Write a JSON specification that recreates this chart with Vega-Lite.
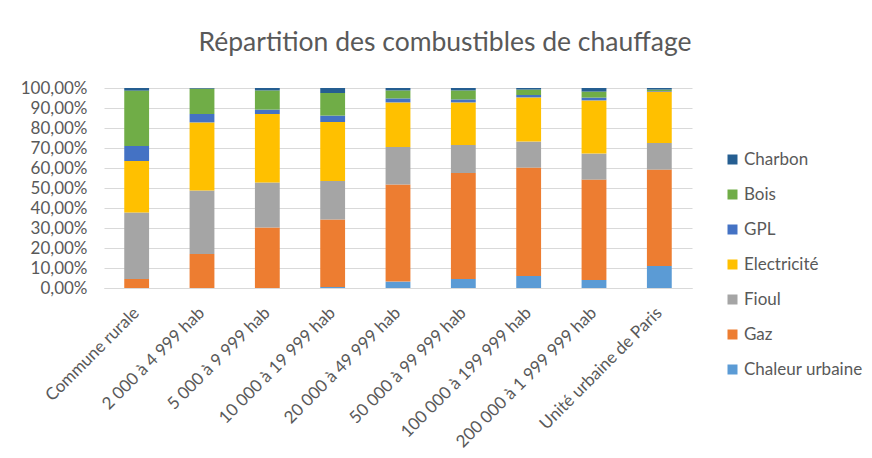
{
  "$schema": "https://vega.github.io/schema/vega-lite/v6.json",
  "autosize": {"type": "none"},
  "padding": {"left": 104, "top": 88, "right": 180, "bottom": 170},
  "width": 588,
  "height": 200,
  "background": "white",
  "title": {
    "text": "Répartition des combustibles de chauffage",
    "anchor": "middle",
    "dx": 47,
    "offset": 23,
    "font": "Lato",
    "fontSize": 26.5,
    "fontWeight": "normal",
    "color": "#595959"
  },
  "config": {
    "view": {"stroke": null},
    "font": "Lato"
  },
  "datasets": {
    "combustibles": [
      {"combustible": "Chaleur urbaine", "rang": 1},
      {"combustible": "Gaz", "rang": 2},
      {"combustible": "Fioul", "rang": 3},
      {"combustible": "Electricité", "rang": 4},
      {"combustible": "GPL", "rang": 5},
      {"combustible": "Bois", "rang": 6},
      {"combustible": "Charbon", "rang": 7}
    ]
  },
  "data": {
    "values": [
      {"groupe": "Commune rurale", "combustible": "Chaleur urbaine", "part": 0.0},
      {"groupe": "Commune rurale", "combustible": "Gaz", "part": 4.5},
      {"groupe": "Commune rurale", "combustible": "Fioul", "part": 33.2},
      {"groupe": "Commune rurale", "combustible": "Electricité", "part": 25.8},
      {"groupe": "Commune rurale", "combustible": "GPL", "part": 7.5},
      {"groupe": "Commune rurale", "combustible": "Bois", "part": 27.7},
      {"groupe": "Commune rurale", "combustible": "Charbon", "part": 1.3},

      {"groupe": "2 000 à 4 999 hab", "combustible": "Chaleur urbaine", "part": 0.0},
      {"groupe": "2 000 à 4 999 hab", "combustible": "Gaz", "part": 17.0},
      {"groupe": "2 000 à 4 999 hab", "combustible": "Fioul", "part": 31.7},
      {"groupe": "2 000 à 4 999 hab", "combustible": "Electricité", "part": 34.1},
      {"groupe": "2 000 à 4 999 hab", "combustible": "GPL", "part": 4.2},
      {"groupe": "2 000 à 4 999 hab", "combustible": "Bois", "part": 12.7},
      {"groupe": "2 000 à 4 999 hab", "combustible": "Charbon", "part": 0.3},

      {"groupe": "5 000 à 9 999 hab", "combustible": "Chaleur urbaine", "part": 0.0},
      {"groupe": "5 000 à 9 999 hab", "combustible": "Gaz", "part": 30.3},
      {"groupe": "5 000 à 9 999 hab", "combustible": "Fioul", "part": 22.4},
      {"groupe": "5 000 à 9 999 hab", "combustible": "Electricité", "part": 34.3},
      {"groupe": "5 000 à 9 999 hab", "combustible": "GPL", "part": 2.2},
      {"groupe": "5 000 à 9 999 hab", "combustible": "Bois", "part": 9.6},
      {"groupe": "5 000 à 9 999 hab", "combustible": "Charbon", "part": 1.2},

      {"groupe": "10 000 à 19 999 hab", "combustible": "Chaleur urbaine", "part": 0.5},
      {"groupe": "10 000 à 19 999 hab", "combustible": "Gaz", "part": 33.8},
      {"groupe": "10 000 à 19 999 hab", "combustible": "Fioul", "part": 19.2},
      {"groupe": "10 000 à 19 999 hab", "combustible": "Electricité", "part": 29.5},
      {"groupe": "10 000 à 19 999 hab", "combustible": "GPL", "part": 3.2},
      {"groupe": "10 000 à 19 999 hab", "combustible": "Bois", "part": 11.3},
      {"groupe": "10 000 à 19 999 hab", "combustible": "Charbon", "part": 2.5},

      {"groupe": "20 000 à 49 999 hab", "combustible": "Chaleur urbaine", "part": 3.2},
      {"groupe": "20 000 à 49 999 hab", "combustible": "Gaz", "part": 48.5},
      {"groupe": "20 000 à 49 999 hab", "combustible": "Fioul", "part": 18.8},
      {"groupe": "20 000 à 49 999 hab", "combustible": "Electricité", "part": 22.3},
      {"groupe": "20 000 à 49 999 hab", "combustible": "GPL", "part": 2.0},
      {"groupe": "20 000 à 49 999 hab", "combustible": "Bois", "part": 4.0},
      {"groupe": "20 000 à 49 999 hab", "combustible": "Charbon", "part": 1.2},

      {"groupe": "50 000 à 99 999 hab", "combustible": "Chaleur urbaine", "part": 4.5},
      {"groupe": "50 000 à 99 999 hab", "combustible": "Gaz", "part": 53.0},
      {"groupe": "50 000 à 99 999 hab", "combustible": "Fioul", "part": 14.0},
      {"groupe": "50 000 à 99 999 hab", "combustible": "Electricité", "part": 21.3},
      {"groupe": "50 000 à 99 999 hab", "combustible": "GPL", "part": 1.5},
      {"groupe": "50 000 à 99 999 hab", "combustible": "Bois", "part": 4.5},
      {"groupe": "50 000 à 99 999 hab", "combustible": "Charbon", "part": 1.2},

      {"groupe": "100 000 à 199 999 hab", "combustible": "Chaleur urbaine", "part": 6.0},
      {"groupe": "100 000 à 199 999 hab", "combustible": "Gaz", "part": 54.2},
      {"groupe": "100 000 à 199 999 hab", "combustible": "Fioul", "part": 13.0},
      {"groupe": "100 000 à 199 999 hab", "combustible": "Electricité", "part": 22.1},
      {"groupe": "100 000 à 199 999 hab", "combustible": "GPL", "part": 1.2},
      {"groupe": "100 000 à 199 999 hab", "combustible": "Bois", "part": 2.7},
      {"groupe": "100 000 à 199 999 hab", "combustible": "Charbon", "part": 0.8},

      {"groupe": "200 000 à 1 999 999 hab", "combustible": "Chaleur urbaine", "part": 4.0},
      {"groupe": "200 000 à 1 999 999 hab", "combustible": "Gaz", "part": 50.2},
      {"groupe": "200 000 à 1 999 999 hab", "combustible": "Fioul", "part": 13.0},
      {"groupe": "200 000 à 1 999 999 hab", "combustible": "Electricité", "part": 26.6},
      {"groupe": "200 000 à 1 999 999 hab", "combustible": "GPL", "part": 1.4},
      {"groupe": "200 000 à 1 999 999 hab", "combustible": "Bois", "part": 3.0},
      {"groupe": "200 000 à 1 999 999 hab", "combustible": "Charbon", "part": 1.8},

      {"groupe": "Unité urbaine de Paris", "combustible": "Chaleur urbaine", "part": 11.0},
      {"groupe": "Unité urbaine de Paris", "combustible": "Gaz", "part": 48.2},
      {"groupe": "Unité urbaine de Paris", "combustible": "Fioul", "part": 13.3},
      {"groupe": "Unité urbaine de Paris", "combustible": "Electricité", "part": 25.7},
      {"groupe": "Unité urbaine de Paris", "combustible": "GPL", "part": 0.3},
      {"groupe": "Unité urbaine de Paris", "combustible": "Bois", "part": 0.7},
      {"groupe": "Unité urbaine de Paris", "combustible": "Charbon", "part": 0.8}
    ]
  },
  "transform": [
    {
      "lookup": "combustible",
      "from": {"data": {"name": "combustibles"}, "key": "combustible", "fields": ["rang"]}
    }
  ],
  "mark": {"type": "bar"},
  "encoding": {
    "x": {
      "field": "groupe",
      "type": "nominal",
      "sort": null,
      "scale": {"paddingInner": 0.62, "paddingOuter": 0.31},
      "axis": {
        "title": null,
        "labelAngle": -45,
        "labelAlign": "right",
        "labelBaseline": "middle",
        "labelFontSize": 17,
        "labelColor": "#595959",
        "labelPadding": 22,
        "labelLimit": 400,
        "ticks": false,
        "domainColor": "#d9d9d9",
        "labelOverlap": false
      }
    },
    "y": {
      "field": "part",
      "type": "quantitative",
      "stack": "normalize",
      "scale": {"domain": [0, 1]},
      "axis": {
        "title": null,
        "values": [0, 0.1, 0.2, 0.3, 0.4, 0.5, 0.6, 0.7, 0.8, 0.9, 1],
        "labelExpr": "replace(format(datum.value, '.2%'), '.', ',')",
        "labelFontSize": 17,
        "labelColor": "#595959",
        "labelPadding": 17,
        "ticks": false,
        "domain": false,
        "gridColor": "#d9d9d9",
        "gridWidth": 1
      }
    },
    "order": {"field": "rang", "type": "quantitative", "sort": "ascending"},
    "color": {
      "field": "combustible",
      "type": "nominal",
      "sort": ["Charbon", "Bois", "GPL", "Electricité", "Fioul", "Gaz", "Chaleur urbaine"],
      "scale": {
        "domain": ["Charbon", "Bois", "GPL", "Electricité", "Fioul", "Gaz", "Chaleur urbaine"],
        "range": ["#255E91", "#70AD47", "#4472C4", "#FFC000", "#A5A5A5", "#ED7D31", "#5B9BD5"]
      },
      "legend": {
        "title": null,
        "orient": "none",
        "legendX": 620,
        "legendY": 63,
        "symbolType": "square",
        "symbolSize": 100,
        "symbolStrokeWidth": 0,
        "labelFontSize": 17,
        "labelColor": "#595959",
        "labelOffset": 3,
        "rowPadding": 17
      }
    }
  }
}
